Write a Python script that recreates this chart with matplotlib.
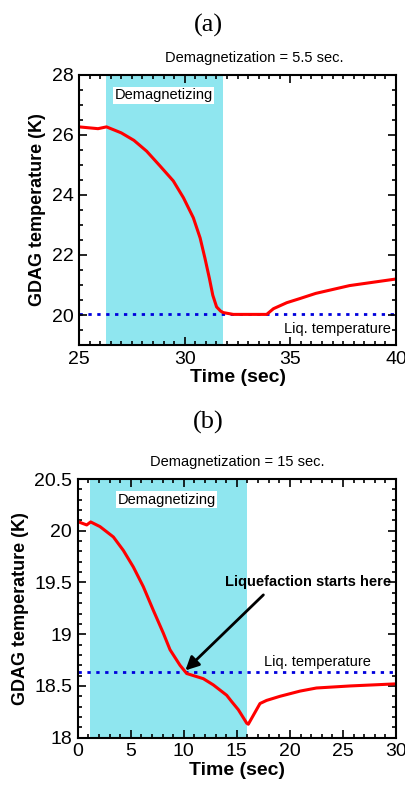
import matplotlib.pyplot as plt
from matplotlib.ticker import MultipleLocator

plt.rcParams['font.family'] = ['Liberation Sans', 'DejaVu Sans']

# panel (a): demagnetization 5.5 s
time_a = [25.0, 25.9, 26.3, 27.0, 27.6, 28.2, 28.83, 29.46, 29.94, 30.41, 30.73, 30.96,
          31.17, 31.33, 31.51, 31.7, 31.83, 32.3, 33.0, 33.88, 34.2, 34.83, 35.46, 36.2,
          37.8, 39.0, 40.0]
temp_a = [26.27, 26.21, 26.27, 26.07, 25.82, 25.46, 24.97, 24.47, 23.91, 23.24, 22.57, 21.89,
          21.22, 20.66, 20.27, 20.13, 20.08, 20.02, 20.02, 20.02, 20.21, 20.41, 20.55, 20.72,
          20.98, 21.1, 21.2]
demag_a = (26.3, 31.8)
liq_a = 20.02

# panel (b): demagnetization 15 s
time_b = [0.0, 0.22, 0.85, 1.22, 2.1, 3.36, 4.3, 5.24, 6.18, 7.13, 8.07, 8.7, 9.64, 10.27,
          10.9, 11.84, 12.78, 14.04, 14.5, 15.14, 15.93, 16.08, 17.18, 17.8, 19.07, 20.95,
          22.5, 25.7, 30.0]
temp_b = [20.09, 20.08, 20.056, 20.085, 20.04, 19.94, 19.81, 19.65, 19.46, 19.23, 19.01, 18.85,
          18.7, 18.62, 18.6, 18.57, 18.51, 18.41, 18.35, 18.27, 18.14, 18.13, 18.33, 18.36,
          18.4, 18.45, 18.48, 18.5, 18.52]
demag_b = (1.2, 16.0)
liq_b = 18.63


def style_axes(ax, xmaj, xmin, ymaj, ymin):
    ax.xaxis.set_major_locator(MultipleLocator(xmaj))
    ax.xaxis.set_minor_locator(MultipleLocator(xmin))
    ax.yaxis.set_major_locator(MultipleLocator(ymaj))
    ax.yaxis.set_minor_locator(MultipleLocator(ymin))
    ax.tick_params(which='both', direction='in', top=True, right=True, width=1.2)
    ax.tick_params(which='major', length=6, labelsize=14, pad=4)
    ax.tick_params(which='minor', length=3)
    for s in ax.spines.values():
        s.set_linewidth(1.5)
    ax.set_xlabel("Time (sec)", fontsize=14, fontweight='bold', labelpad=1)
    ax.set_ylabel("GDAG temperature (K)", fontsize=13, fontweight='bold')


fig = plt.figure(figsize=(4.06, 7.85), dpi=100)
ax1 = fig.add_axes([0.1946, 0.5605, 0.7808, 0.344])
ax2 = fig.add_axes([0.1914, 0.0603, 0.784, 0.3295])

# (a)
ax1.axvspan(*demag_a, color='#8fe6ef', lw=0, zorder=0)
ax1.axhline(liq_a, color='#0000dd', lw=2, ls=(0, (1.2, 2)), zorder=1)
ax1.plot(time_a, temp_a, color='red', lw=2.2, zorder=2)
ax1.set_xlim(25, 40)
ax1.set_ylim(19, 28)
style_axes(ax1, 5, 0.5, 2, 0.5)
ax1.text(29.0, 27.33, "Demagnetizing", fontsize=10.5, ha='center', va='center',
         bbox=dict(facecolor='white', edgecolor='none', pad=1))
ax1.text(39.75, 19.55, "Liq. temperature", fontsize=10.5, ha='right', va='center')
ax1.text(33.3, 28.55, "Demagnetization = 5.5 sec.", fontsize=10.5, ha='center', va='center')

# (b)
ax2.axvspan(*demag_b, color='#8fe6ef', lw=0, zorder=0)
ax2.axhline(liq_b, color='#0000dd', lw=2, ls=(0, (1.2, 2)), zorder=1)
ax2.plot(time_b, temp_b, color='red', lw=2.2, zorder=2)
ax2.set_xlim(0, 30)
ax2.set_ylim(18, 20.5)
style_axes(ax2, 5, 1, 0.5, 0.1)
ax2.yaxis.set_major_formatter(plt.FuncFormatter(lambda v, p: f"{v:g}"))
ax2.text(8.4, 20.3, "Demagnetizing", fontsize=10.5, ha='center', va='center',
         bbox=dict(facecolor='white', edgecolor='none', pad=1))
ax2.text(22.6, 18.73, "Liq. temperature", fontsize=10.5, ha='center', va='center')
ax2.text(15, 20.66, "Demagnetization = 15 sec.", fontsize=10.5, ha='center', va='center')
ax2.text(21.7, 19.5, "Liquefaction starts here", fontsize=10.5, fontweight='bold',
         ha='center', va='center')
ax2.annotate("", xy=(10.15, 18.65), xytext=(17.5, 19.38),
             arrowprops=dict(arrowstyle='-|>', color='black', lw=2, mutation_scale=20,
                             shrinkA=0, shrinkB=0))

fig.text(208 / 406, 1 - 25 / 785, "(a)", fontsize=19, family='Liberation Serif',
         ha='center', va='center')
fig.text(208 / 406, 1 - 422 / 785, "(b)", fontsize=19, family='Liberation Serif',
         ha='center', va='center')

fig.savefig("out.png", dpi=100)
